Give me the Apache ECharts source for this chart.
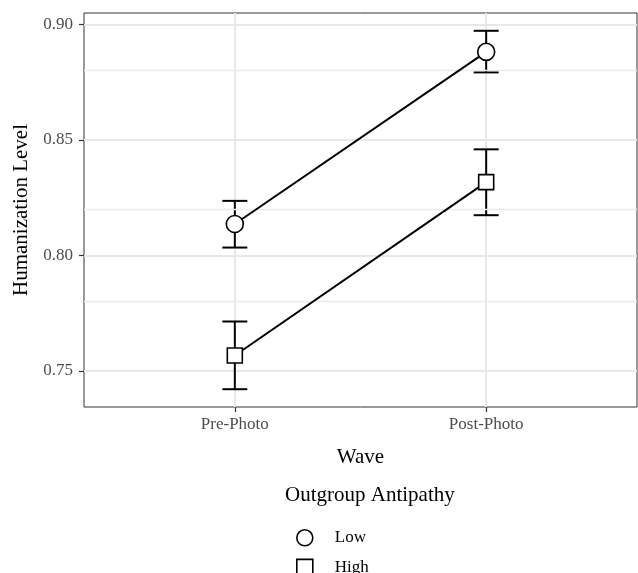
<!DOCTYPE html>
<html>
<head>
<meta charset="utf-8">
<script src="https://cdn.jsdelivr.net/npm/echarts@6/dist/echarts.min.js"></script>
<style>
  html, body { margin: 0; padding: 0; background: #fff; }
  #chart { width: 638px; height: 573px; }
</style>
</head>
<body>
<div id="chart"></div>
<script>
  const waves = ['Pre-Photo', 'Post-Photo'];
  const waveX = [1, 2];
  const lowMean = [0.8136, 0.8881];
  const lowLower = [0.8034, 0.8792];
  const lowUpper = [0.8236, 0.8972];
  const highMean = [0.7567, 0.8317];
  const highLower = [0.7421, 0.8174];
  const highUpper = [0.7714, 0.8459];
  const yTicks = [0.75, 0.8, 0.85, 0.9];
  const yMinor = [0.775, 0.825, 0.875];

  const font = 'Liberation Serif';

  const toPoints = (mean) => waveX.map((x, i) => [x, mean[i]]);
  const toBars = (lower, upper) => waveX.map((x, i) => [x, lower[i], upper[i]]);

  function errorBar(params, api) {
    const x = api.value(0);
    const lo = api.coord([x, api.value(1)]);
    const hi = api.coord([x, api.value(2)]);
    const half = 12.5;
    const style = { stroke: '#000', lineWidth: 2, fill: null };
    return {
      type: 'group',
      children: [
        { type: 'line', shape: { x1: lo[0], y1: lo[1], x2: hi[0], y2: hi[1] }, style },
        { type: 'line', shape: { x1: lo[0] - half, y1: lo[1], x2: lo[0] + half, y2: lo[1] }, style },
        { type: 'line', shape: { x1: hi[0] - half, y1: hi[1], x2: hi[0] + half, y2: hi[1] }, style },
      ],
    };
  }

  const chart = echarts.init(document.getElementById('chart'));
  chart.setOption({
    animation: false,
    textStyle: { fontFamily: font },
    title: {
      text: 'Outgroup Antipathy',
      left: 285,
      top: 485,
      padding: 0,
      textStyle: { fontFamily: font, fontSize: 21, fontWeight: 'normal', color: '#000' },
    },
    legend: {
      orient: 'vertical',
      left: 296,
      top: 529,
      width: 120,
      height: 80,
      padding: 0,
      itemWidth: 16,
      itemHeight: 16,
      itemGap: 12,
      textStyle: { fontFamily: font, fontSize: 17, color: '#000', padding: [0, 0, 0, 17] },
      data: [
        { name: 'Low', icon: 'circle', itemStyle: { color: '#fff', borderColor: '#000', borderWidth: 1.6 } },
        { name: 'High', icon: 'rect', itemStyle: { color: '#fff', borderColor: '#000', borderWidth: 1.6 } },
      ],
    },
    grid: {
      left: 84,
      right: 1,
      top: 13,
      bottom: 166,
      show: true,
      borderColor: '#333',
      borderWidth: 1,
      containLabel: false,
    },
    xAxis: {
      type: 'value',
      min: 0.4,
      max: 2.6,
      name: 'Wave',
      nameLocation: 'middle',
      nameGap: 40,
      nameTextStyle: { fontFamily: font, fontSize: 21, color: '#000' },
      axisLine: { show: false },
      axisTick: { show: true, customValues: waveX, length: 5, lineStyle: { color: '#333', width: 1.2 } },
      axisLabel: {
        customValues: waveX,
        margin: 9,
        fontFamily: font,
        fontSize: 17,
        color: '#4d4d4d',
        formatter: (v) => waves[Math.round(v) - 1],
      },
      splitLine: { show: true, lineStyle: { color: '#e8e8e8', width: 2 } },
    },
    yAxis: {
      type: 'value',
      min: 0.7344,
      max: 0.9049,
      name: 'Humanization Level',
      nameLocation: 'middle',
      nameGap: 50,
      nameTextStyle: { fontFamily: font, fontSize: 21, color: '#000' },
      axisLine: { show: false },
      axisTick: { show: true, customValues: yTicks, length: 5, lineStyle: { color: '#333', width: 1.2 } },
      axisLabel: {
        customValues: yTicks,
        margin: 11,
        fontFamily: font,
        fontSize: 17,
        color: '#4d4d4d',
        formatter: (v) => v.toFixed(2),
      },
      splitLine: { show: true, lineStyle: { color: '#e8e8e8', width: 2 } },
    },
    series: [
      {
        name: 'minor',
        type: 'line',
        data: [],
        silent: true,
        markLine: {
          silent: true,
          symbol: 'none',
          label: { show: false },
          lineStyle: { color: '#ebebeb', width: 1.3, type: 'solid' },
          data: yMinor.map((v) => ({ yAxis: v })),
        },
      },
      {
        name: 'lowErr',
        type: 'custom',
        renderItem: errorBar,
        data: toBars(lowLower, lowUpper),
        z: 3,
      },
      {
        name: 'highErr',
        type: 'custom',
        renderItem: errorBar,
        data: toBars(highLower, highUpper),
        z: 3,
      },
      {
        name: 'Low',
        type: 'line',
        data: toPoints(lowMean),
        symbol: 'circle',
        symbolSize: 17,
        lineStyle: { color: '#000', width: 2 },
        itemStyle: { color: '#fff', borderColor: '#000', borderWidth: 1.6 },
        z: 5,
      },
      {
        name: 'High',
        type: 'line',
        data: toPoints(highMean),
        symbol: 'rect',
        symbolSize: 15,
        lineStyle: { color: '#000', width: 2 },
        itemStyle: { color: '#fff', borderColor: '#000', borderWidth: 1.6 },
        z: 5,
      },
    ],
  });
</script>
</body>
</html>
